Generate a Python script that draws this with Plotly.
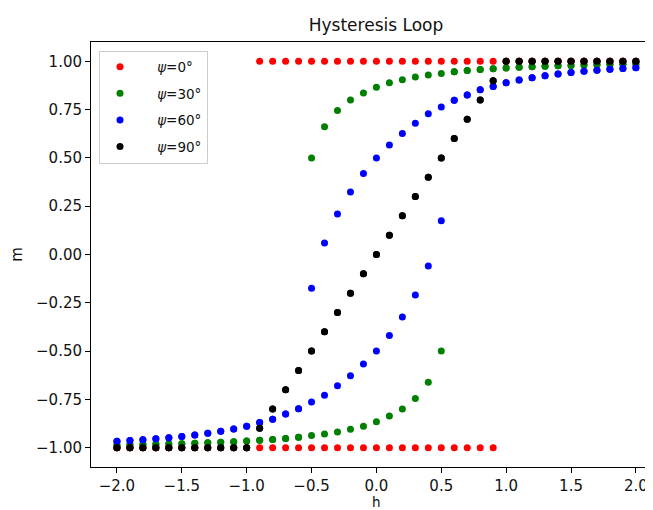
import plotly.graph_objects as go

# Applied field values (one sweep, ascending)
h = [-2.0, -1.9, -1.8, -1.7, -1.6, -1.5, -1.4, -1.3, -1.2, -1.1, -1.0,
     -0.9, -0.8, -0.7, -0.6, -0.5, -0.4, -0.3, -0.2, -0.1, 0.0,
     0.1, 0.2, 0.3, 0.4, 0.5, 0.6, 0.7, 0.8, 0.9, 1.0,
     1.1, 1.2, 1.3, 1.4, 1.5, 1.6, 1.7, 1.8, 1.9, 2.0]

# psi = 0 deg
m0_down = [-1.0] * 11 + [1.0] * 30
m0_up = [-1.0] * 30 + [1.0] * 11

# psi = 30 deg
m30_down = [-0.986, -0.985, -0.984, -0.982, -0.981, -0.979, -0.977, -0.975, -0.972, -0.969,
            -0.966, -0.962, -0.958, -0.953, -0.946,
            0.50, 0.661, 0.746, 0.80, 0.836, 0.866, 0.889, 0.905, 0.919, 0.929, 0.937,
            0.946, 0.953, 0.958, 0.962, 0.966, 0.969, 0.972, 0.975, 0.977, 0.979,
            0.981, 0.982, 0.984, 0.985, 0.986]
m30_up = [-0.986, -0.985, -0.984, -0.982, -0.981, -0.979, -0.977, -0.975, -0.972, -0.969,
          -0.966, -0.962, -0.958, -0.953, -0.946,
          -0.937, -0.929, -0.919, -0.905, -0.889, -0.866, -0.836, -0.80, -0.746, -0.661, -0.50,
          0.946, 0.953, 0.958, 0.962, 0.966, 0.969, 0.972, 0.975, 0.977, 0.979,
          0.981, 0.982, 0.984, 0.985, 0.986]

# psi = 60 deg
m60_down = [-0.967, -0.963, -0.959, -0.954, -0.948, -0.942, -0.934, -0.925, -0.915, -0.903,
            -0.889, -0.870, -0.853, -0.826, -0.799,
            -0.175, 0.06, 0.21, 0.323, 0.419, 0.5, 0.567, 0.627, 0.680, 0.728, 0.764,
            0.799, 0.826, 0.853, 0.870, 0.889, 0.903, 0.915, 0.925, 0.934, 0.942,
            0.948, 0.954, 0.959, 0.963, 0.967]
m60_up = [-0.967, -0.963, -0.959, -0.954, -0.948, -0.942, -0.934, -0.925, -0.915, -0.903,
          -0.889, -0.870, -0.853, -0.826, -0.799,
          -0.764, -0.728, -0.680, -0.627, -0.567, -0.5, -0.419, -0.323, -0.21, -0.06, 0.175,
          0.799, 0.826, 0.853, 0.870, 0.889, 0.903, 0.915, 0.925, 0.934, 0.942,
          0.948, 0.954, 0.959, 0.963, 0.967]

# psi = 90 deg
m90_down = [-1.0, -1.0, -1.0, -1.0, -1.0, -1.0, -1.0, -1.0, -1.0, -1.0, -1.0,
            -0.9, -0.8, -0.7, -0.6, -0.5, -0.4, -0.3, -0.2, -0.1, 0.0,
            0.1, 0.2, 0.3, 0.4, 0.5, 0.6, 0.7, 0.8, 0.9, 1.0,
            1.0, 1.0, 1.0, 1.0, 1.0, 1.0, 1.0, 1.0, 1.0, 1.0]
m90_up = list(m90_down)

labels = ["<i>ψ</i>=0°", "<i>ψ</i>=30°", "<i>ψ</i>=60°", "<i>ψ</i>=90°"]
colors = ["#ff0000", "#008000", "#0000ff", "#000000"]
series = [(m0_down, m0_up), (m30_down, m30_up), (m60_down, m60_up), (m90_down, m90_up)]

x_ticks = [-2.0, -1.5, -1.0, -0.5, 0.0, 0.5, 1.0, 1.5, 2.0]
x_ticktext = ["−2.0", "−1.5", "−1.0", "−0.5", "0.0", "0.5", "1.0", "1.5", "2.0"]
y_ticks = [-1.0, -0.75, -0.5, -0.25, 0.0, 0.25, 0.5, 0.75, 1.0]
y_ticktext = ["−1.00", "−0.75", "−0.50", "−0.25", "0.00", "0.25", "0.50", "0.75", "1.00"]

fig = go.Figure()
for i, (lab, col, (down, up)) in enumerate(zip(labels, colors, series)):
    fig.add_trace(go.Scatter(
        x=h[::-1] + h, y=down[::-1] + up,
        mode="markers", name="\u00a0\u00a0\u00a0\u00a0" + lab, legendgroup=f"g{i}",
        marker=dict(color=col, size=7, line=dict(width=0)),
    ))

# The page has an 8px body margin, so the figure is 8px smaller than the window.
W, H = 645, 502
L, T, B = 83, 34, 43
plot_w = W - L

font = "DejaVu Sans"
fig.update_layout(
    width=W, height=H,
    paper_bgcolor="white", plot_bgcolor="white",
    margin=dict(l=L, r=0, t=T, b=B, autoexpand=False),
    font=dict(family=font, size=15, color="#111"),
    title=dict(text="Hysteresis Loop", x=(L + 285) / W, xanchor="center",
               y=1 - 17 / H, yanchor="middle", font=dict(size=17, color="#111")),
    showlegend=True,
    legend=dict(x=8 / plot_w, y=0.98, xanchor="left", yanchor="top",
                bordercolor="#cccccc", borderwidth=1, bgcolor="white",
                font=dict(size=13.5), tracegroupgap=6, itemwidth=30),
    annotations=[dict(text="h", x=285 / plot_w, xref="paper", y=0, yref="paper",
                      xanchor="center", yanchor="bottom", showarrow=False, borderpad=0,
                      font=dict(size=13.5, color="#111"), yshift=-44)],
)
fig.update_xaxes(
    range=[-2.2, 2.132], tickmode="array", tickvals=x_ticks, ticktext=x_ticktext,
    showline=True, linecolor="black", linewidth=1, mirror=True, automargin=False,
    ticks="outside", ticklen=5, tickcolor="black", showgrid=False, zeroline=False,
)
fig.update_yaxes(
    range=[-1.1, 1.1], tickmode="array", tickvals=y_ticks, ticktext=y_ticktext,
    showline=True, linecolor="black", linewidth=1, mirror=False, automargin=False,
    ticks="outside", ticklen=5, tickcolor="black", showgrid=False, zeroline=False,
    title=dict(text="m", font=dict(size=15), standoff=10),
)

fig.write_html("out.html")
